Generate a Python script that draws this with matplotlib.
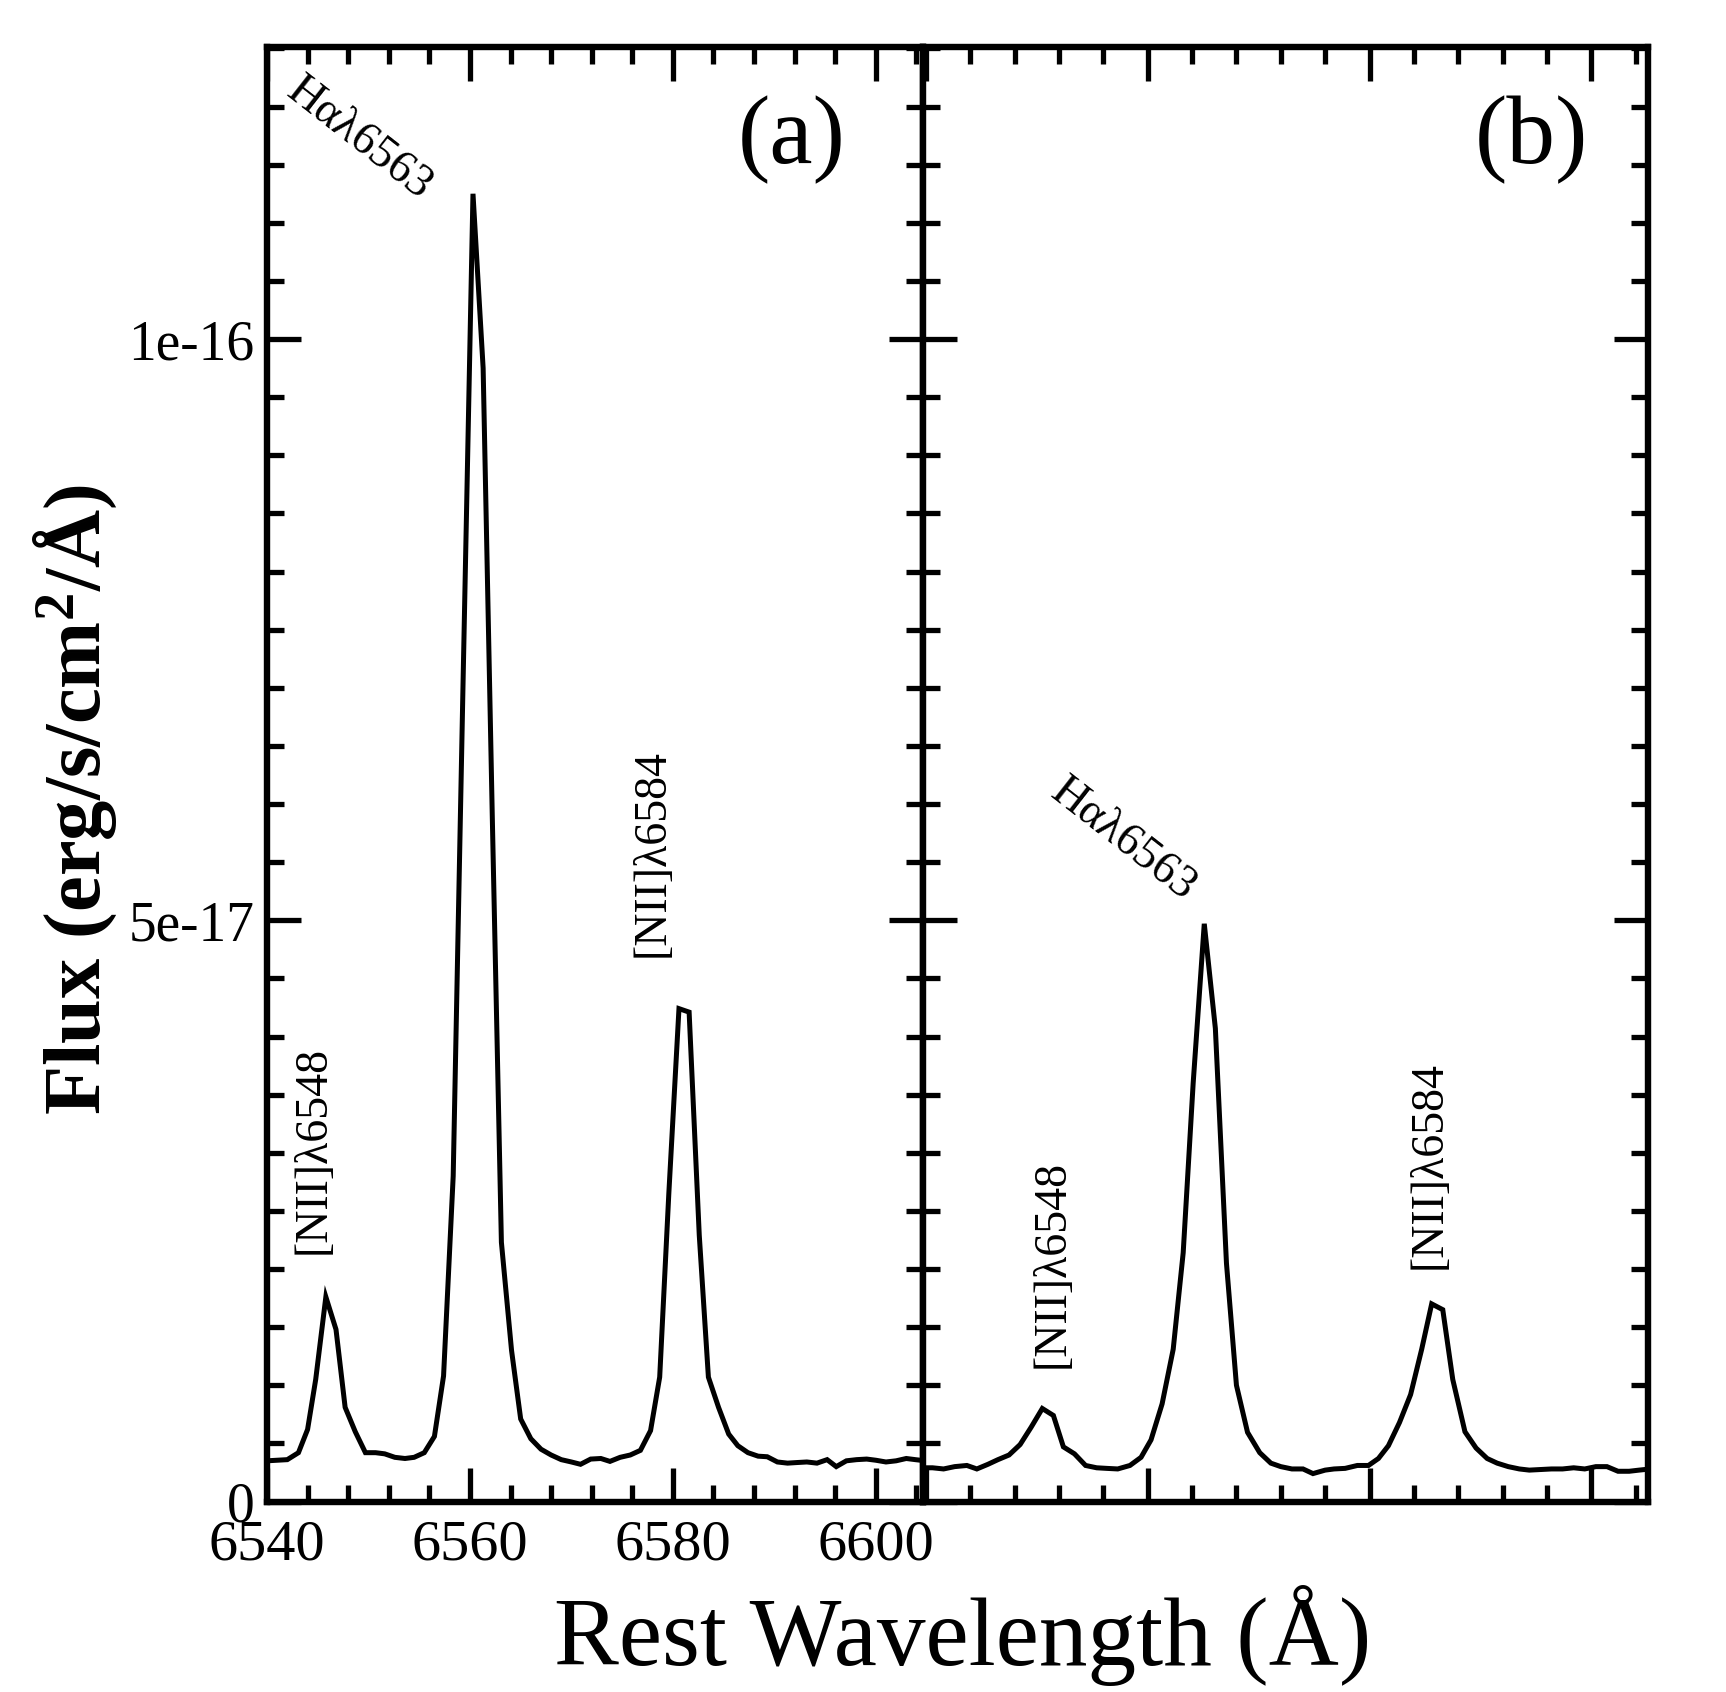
import matplotlib
matplotlib.use("Agg")
import matplotlib.pyplot as plt
from matplotlib.ticker import MultipleLocator

plt.rcParams['font.family'] = ['Liberation Serif', 'DejaVu Serif']
plt.rcParams['mathtext.fontset'] = 'custom'
plt.rcParams['mathtext.rm'] = 'Liberation Serif'
plt.rcParams['mathtext.bf'] = 'Liberation Serif:bold'
plt.rcParams['mathtext.it'] = 'Liberation Serif:italic'

# ---------------- data (flux in units of 1e-17 erg/s/cm^2/A) ----------------
wave_a = [6540.0, 6541.0, 6542.0, 6543.1, 6544.0, 6544.8, 6545.8, 6546.8, 6547.7, 6548.7,
          6549.7, 6550.7, 6551.6, 6552.6, 6553.6, 6554.5, 6555.5, 6556.5, 6557.4, 6558.35,
          6559.3, 6560.3, 6561.3, 6562.2, 6563.1, 6564.1, 6565.0, 6566.0, 6567.0, 6568.0,
          6569.0, 6570.0, 6570.9, 6571.9, 6572.9, 6573.8, 6574.8, 6575.8, 6576.8, 6577.8,
          6578.7, 6579.6, 6580.6, 6581.6, 6582.6, 6583.5, 6584.5, 6585.5, 6586.4, 6587.4,
          6588.4, 6589.3, 6590.3, 6591.3, 6592.2, 6593.2, 6594.2, 6595.2, 6596.1, 6597.1,
          6598.1, 6599.1, 6600.0, 6601.0, 6602.0, 6603.0, 6603.9, 6604.9]
flux_a = [0.35, 0.355, 0.36, 0.42, 0.62, 1.05, 1.76, 1.48, 0.81, 0.60,
          0.42, 0.42, 0.41, 0.38, 0.37, 0.38, 0.42, 0.56, 1.08, 2.80,
          6.95, 11.25, 9.75, 5.90, 2.23, 1.30, 0.71, 0.54, 0.45, 0.40,
          0.36, 0.34, 0.32, 0.365, 0.37, 0.345, 0.38, 0.40, 0.44, 0.61,
          1.07, 2.65, 4.24, 4.21, 2.29, 1.07, 0.81, 0.58, 0.48, 0.42,
          0.39, 0.385, 0.34, 0.33, 0.335, 0.34, 0.33, 0.36, 0.30, 0.35,
          0.36, 0.365, 0.355, 0.34, 0.35, 0.37, 0.36, 0.35]

wave_b = [6539.7, 6540.6, 6541.6, 6542.6, 6543.7, 6544.6, 6545.6, 6546.5, 6547.5, 6548.5,
          6549.5, 6550.5, 6551.5, 6552.4, 6553.4, 6554.4, 6555.4, 6556.3, 6557.3, 6558.4,
          6559.4, 6560.3, 6561.3, 6562.3, 6563.2, 6564.1, 6565.1, 6566.1, 6567.1, 6568.0,
          6569.0, 6570.1, 6571.1, 6572.0, 6573.0, 6574.0, 6574.9, 6576.0, 6576.8, 6577.8,
          6578.9, 6579.9, 6580.8, 6581.7, 6582.7, 6583.7, 6584.7, 6585.6, 6586.6, 6587.5,
          6588.6, 6589.6, 6590.6, 6591.5, 6592.5, 6593.5, 6594.4, 6595.4, 6596.4, 6597.4,
          6598.4, 6599.4, 6600.4, 6601.4, 6602.4, 6603.4, 6604.3, 6605.3]
flux_b = [0.29, 0.29, 0.28, 0.30, 0.31, 0.28, 0.32, 0.36, 0.40, 0.49,
          0.64, 0.80, 0.74, 0.47, 0.41, 0.31, 0.29, 0.285, 0.28, 0.31,
          0.38, 0.53, 0.84, 1.31, 2.14, 3.60, 4.97, 4.07, 2.05, 1.00,
          0.595, 0.42, 0.33, 0.30, 0.28, 0.28, 0.24, 0.27, 0.28, 0.285,
          0.31, 0.31, 0.37, 0.48, 0.68, 0.92, 1.31, 1.70, 1.65, 1.05,
          0.60, 0.46, 0.37, 0.33, 0.30, 0.28, 0.27, 0.275, 0.28, 0.28,
          0.29, 0.28, 0.30, 0.30, 0.26, 0.26, 0.27, 0.28]

unit = 1e-17

ytick_vals = [0, 5e-17, 1e-16]
ytick_labels = ['0', '5e-17', '1e-16']
xtick_vals = [6540, 6560, 6580, 6600]
xtick_labels = ['6540', '6560', '6580', '6600']

# line labels: (text, wavelength, flux[1e-17], rotation)
labels_a = [('[NII]\u03bb6548', 6544.6, 2.13, 90),
            ('[NII]\u03bb6584', 6578.0, 4.68, 90),
            ('H\u03b1\u03bb6563', 6549.1, 11.72, -38)]
labels_b = [('[NII]\u03bb6548', 6551.4, 1.15, 90),
            ('[NII]\u03bb6584', 6585.4, 2.00, 90),
            ('H\u03b1\u03bb6563', 6557.8, 5.69, -38)]

# ---------------- figure ----------------
W, H = 1726, 1692
fig = plt.figure(figsize=(W / 100, H / 100), dpi=100)
bottom = (H - 1501.5) / H
height = 1454.2 / H
axa = fig.add_axes([267 / W, bottom, 655.5 / W, height])
axb = fig.add_axes([922.5 / W, bottom, 725.5 / W, height])

axa.plot(wave_a, [v * unit for v in flux_a], color='black', lw=3.6,
         solid_joinstyle='miter')
axb.plot(wave_b, [v * unit for v in flux_b], color='black', lw=3.6,
         solid_joinstyle='miter')

axa.set_xlim(6540, 6604.6)
axb.set_xlim(6539.7, 6605.1)
for ax in (axa, axb):
    ax.set_ylim(0, 1.251e-16)
    ax.xaxis.set_major_locator(MultipleLocator(20))
    ax.xaxis.set_minor_locator(MultipleLocator(4))
    ax.set_yticks(ytick_vals)
    ax.yaxis.set_minor_locator(MultipleLocator(5e-18))
    ax.tick_params(which='both', direction='in', top=True, right=True,
                   width=3.8, color='black')
    ax.tick_params(which='major', length=24.5)
    ax.tick_params(which='minor', length=12.5)
    for s in ax.spines.values():
        s.set_linewidth(4.6)

axa.set_xticks(xtick_vals)
axa.set_xticklabels(xtick_labels, fontsize=42)
axa.set_yticklabels(ytick_labels, fontsize=40)
axa.tick_params(axis='x', which='major', pad=13)
axa.tick_params(axis='y', which='major', pad=9)
axb.set_xticklabels([])
axb.set_yticklabels([])

for ax, labs in ((axa, labels_a), (axb, labels_b)):
    for txt, x, y, rot in labs:
        if rot == 90:
            ax.text(x, y * unit, txt, rotation=90, rotation_mode='anchor',
                    ha='left', va='center', fontsize=33)
        else:
            ax.text(x, y * unit, txt, rotation=rot, rotation_mode='anchor',
                    ha='center', va='center', fontsize=33)

axa.text(0.80, 0.936, '(a)', transform=axa.transAxes, fontsize=70,
         ha='center', va='center')
axb.text(0.840, 0.936, '(b)', transform=axb.transAxes, fontsize=70,
         ha='center', va='center')

fig.text(963 / W, (H - 1664.5) / H, 'Rest Wavelength (\u00c5)', fontsize=70,
         ha='center', va='baseline')
fig.text(75 / W, 1 - 800 / H, 'Flux (erg/s/cm$^{\\mathbf{2}}$/\u00c5)',
         fontsize=58, fontweight='bold', rotation=90, ha='center', va='center')

fig.savefig('out.png', dpi=100, facecolor='white')
